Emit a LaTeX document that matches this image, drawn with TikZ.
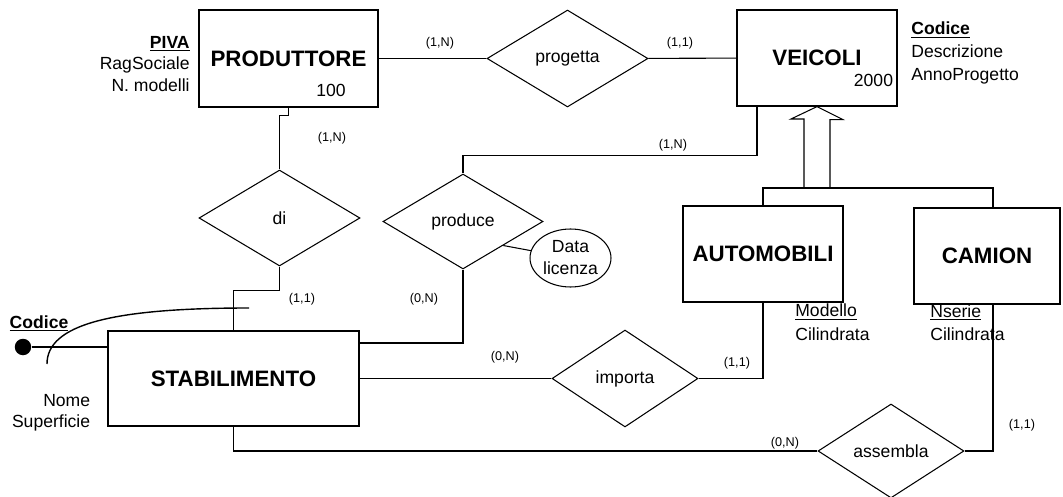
\documentclass[tikz,border=0pt]{standalone}
\usepackage{fontspec}
\setmainfont{Liberation Sans}
\usetikzlibrary{shapes.geometric}

\tikzset{
  entity/.style={rectangle,draw,line width=0.7pt,inner sep=0pt,
                 font=\fontsize{12.7}{15}\selectfont\bfseries},
  relation/.style={diamond,draw,line width=0.6pt,inner sep=0pt,aspect=2,
                   font=\fontsize{10}{12}\selectfont},
  attr/.style={inner sep=0pt,font=\fontsize{10}{#1}\selectfont},
  attr/.default=12,
  card/.style={inner sep=0pt,font=\fontsize{7.2}{9}\selectfont},
  link/.style={line width=0.6pt}
}

\begin{document}
\begin{tikzpicture}[x=0.02cm,y=-0.02cm]
  \useasboundingbox (0,0) rectangle (1063,497);
  %% entities
  \node[entity,minimum width=3.58cm,minimum height=1.94cm] (prod)   at (288.5,58.5) {PRODUTTORE};
  \node[entity,minimum width=3.2cm, minimum height=1.92cm] (veic)   at (817,58)     {VEICOLI};
  \node[entity,minimum width=5.02cm,minimum height=1.9cm]  (stab)   at (233.5,378.5){STABILIMENTO};
  \node[entity,minimum width=3.2cm, minimum height=1.92cm] (autom)  at (763,254)    {AUTOMOBILI};
  \node[entity,minimum width=2.92cm,minimum height=1.92cm] (camion) at (987,256)    {CAMION};
  \node[attr] (prodvol) at (331,90)   {100};
  \node[attr] (veicvol) at (873.5,80) {2000};
  %% relationships
  \node[relation,minimum width=3.22cm,minimum height=1.94cm] (prog)    at (567.5,58.5) {progetta};
  \node[relation,minimum width=3.22cm,minimum height=1.92cm] (di)      at (279.5,218)  {di};
  \node[relation,minimum width=3.2cm, minimum height=1.9cm]  (produce) at (463,221.5)  {produce};
  \node[relation,minimum width=2.92cm,minimum height=1.94cm] (importa) at (625,378.5)  {importa};
  \node[relation,minimum width=2.92cm,minimum height=1.88cm] (assembla) at (891,451)   {assembla};
  %% attributes
  \node[attr=12.3,anchor=north east,align=right] (prodattr) at (190,35.7)
    {\textbf{\underline{PIVA}}\\RagSociale\\N. modelli};
  \node[attr=13.2,anchor=north west,align=left] (veicattr) at (911,21.4)
    {\textbf{\underline{Codice}}\\Descrizione\\AnnoProgetto};
  \node[attr=11.9,anchor=north east,align=right] (stabattr) at (90.5,394)
    {Nome\\Superficie};
  \node[attr=13.2,anchor=north west,align=left] (automattr) at (795,303.8)
    {\underline{Modello}\\Cilindrata};
  \node[attr=13.2,anchor=north west,align=left] (camattr) at (930,304)
    {\underline{Nserie}\\Cilindrata};
  \node[attr=12.5,ellipse,draw,line width=0.6pt,minimum width=1.62cm,minimum height=1.16cm,
        align=center] (datalic) at (570.5,258) {Data\\licenza};
  \node[attr,anchor=base] (stabid) at (39,328) {\textbf{\underline{Codice}}};
  \node[circle,fill,inner sep=0pt,minimum size=0.33cm] (iddot) at (23,347) {};
  %% cardinalities
  \node[card] (c1) at (440,43)  {(1,N)};
  \node[card] (c2) at (680,43)  {(1,1)};
  \node[card] (c3) at (332,138) {(1,N)};
  \node[card] (c4) at (302,299) {(1,1)};
  \node[card] (c5) at (673,145) {(1,N)};
  \node[card] (c6) at (424,299) {(0,N)};
  \node[card] (c7) at (505,357) {(0,N)};
  \node[card] (c8) at (737,363) {(1,1)};
  \node[card] (c9) at (785,443) {(0,N)};
  \node[card] (c10) at (1022,425) {(1,1)};
  %% connectors
  \draw[link] (prod) -- (prog);
  \draw[link] (prog) -- (veic);
  \draw[link] (prod.south) -- ++(0,8) -| (di.north);
  \draw[link] (di.south) -- ++(0,24) -| (stab.north);
  \draw[link] ([xshift=-1.2cm]veic.south) -- ++(0,49) -| (produce.north);
  \draw[link] (produce.south) |- ([yshift=0.71cm]stab.east);
  \draw[link] (produce.south east) -- (datalic);
  \draw[link] (stab) -- (importa);
  \draw[link] (importa.east) -| (autom.south);
  \draw[link] (stab.south) |- (assembla.west);
  \draw[link] (assembla.east) -| ([xshift=0.12cm]camion.south);
  %% generalization
  \coordinate (gen) at (817,188);
  \draw[link] (autom.north) |- (gen) -| ([xshift=0.12cm]camion.north);
  \draw[link] (gen) ++(-13,0) -- ++(0,-69) -- ++(-13,0) -- (veic.south)
    -- ++(26,13) -- ++(-13,0) -- ++(0,69);
  %% external identifier
  \draw[link] (iddot) -- (stab.west |- iddot);
  \coordinate (idfrom) at (47,364);
  \coordinate (idto) at (249,308);
  \draw[line width=0.8pt] (idfrom) .. controls (47,325) and (110,308) .. (idto);
\end{tikzpicture}
\end{document}
